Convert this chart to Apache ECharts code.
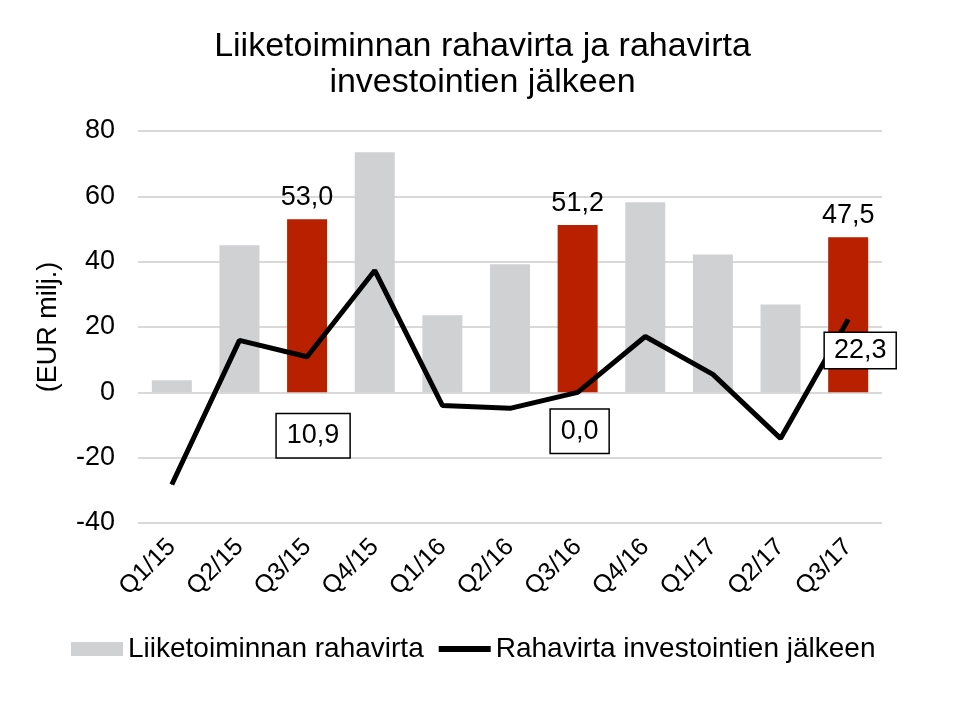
<!DOCTYPE html>
<html><head><meta charset="utf-8">
<script src="https://cdn.jsdelivr.net/npm/echarts@6/dist/echarts.min.js"></script>
<style>html,body{margin:0;padding:0;background:#fff}#c{width:965px;height:704px}</style>
</head><body><div id="c"></div>
<script>
const categories = ['Q1/15','Q2/15','Q3/15','Q4/15','Q1/16','Q2/16','Q3/16','Q4/16','Q1/17','Q2/17','Q3/17'];
const operatingCashFlow = [3.7, 45.0, 53.0, 73.5, 23.6, 39.2, 51.2, 58.2, 42.2, 26.9, 47.5];
const cashFlowAfterInvestments = [-28.2, 15.9, 10.9, 37.3, -4.0, -4.9, 0.0, 17.1, 5.5, -14.1, 22.3];
const highlighted = ['Q3/15','Q3/16','Q3/17'];
const yTicks = [-40, -20, 0, 20, 40, 60, 80];

const FONT = '"Liberation Sans", Arial, sans-serif';
const fmt = v => v.toFixed(1).replace('.', ',');

const barData = operatingCashFlow.map((v, i) => {
  const hi = highlighted.includes(categories[i]);
  return {
    value: v,
    itemStyle: { color: hi ? '#b82000' : '#d0d1d3' },
    label: { show: hi, position: 'top', distance: 8, formatter: fmt(v), fontSize: 27, color: '#000', fontFamily: FONT }
  };
});
const lineLabelStyle = {
  'Q3/15': { offset: [6, 52], padding: [6, 10, 6, 10] },
  'Q3/16': { offset: [2, 12], padding: [6, 10, 6, 10] },
  'Q3/17': { offset: [12, 8], padding: [2, 9, 2, 9] }
};
const lineData = cashFlowAfterInvestments.map((v, i) => {
  const st = lineLabelStyle[categories[i]];
  return {
    value: v,
    label: st ? {
      show: true, position: 'bottom', distance: 5, offset: st.offset, formatter: fmt(v),
      fontSize: 27, lineHeight: 31, color: '#000', fontFamily: FONT,
      backgroundColor: '#fff', borderColor: '#000', borderWidth: 1.5,
      padding: st.padding
    } : { show: false }
  };
});

const chart = echarts.init(document.getElementById('c'));
chart.setOption({
  animation: false,
  title: {
    text: 'Liiketoiminnan rahavirta ja rahavirta\ninvestointien jälkeen',
    left: 'center', top: 24,
    textStyle: { fontFamily: FONT, fontSize: 34, fontWeight: 'normal', color: '#000', lineHeight: 36 }
  },
  legend: {
    bottom: 36, left: 66, itemGap: 15,
    itemWidth: 52, itemHeight: 14,
    textStyle: { fontFamily: FONT, fontSize: 28, color: '#000' },
    data: [
      { name: 'Liiketoiminnan rahavirta', icon: 'rect', itemStyle: { color: '#d0d1d3' } },
      { name: 'Rahavirta investointien jälkeen', icon: 'path://M0,0H52V6H0Z', itemStyle: { color: '#000' }, lineStyle: { width: 0 } }
    ]
  },
  grid: { left: 138, right: 83, top: 131, bottom: 181, containLabel: false },
  xAxis: {
    type: 'category', data: categories,
    axisLine: { show: false }, axisTick: { show: false },
    axisLabel: { rotate: 45, fontSize: 25, color: '#000', fontFamily: FONT, margin: 20, interval: 0 }
  },
  yAxis: {
    type: 'value', min: yTicks[0], max: yTicks[yTicks.length - 1], interval: 20,
    name: '(EUR milj.)', nameLocation: 'middle', nameGap: 76, nameRotate: 90,
    nameTextStyle: { fontSize: 27, color: '#000', fontFamily: FONT },
    axisLine: { show: false }, axisTick: { show: false },
    axisLabel: { fontSize: 27, color: '#000', fontFamily: FONT, margin: 23 },
    splitLine: { lineStyle: { color: '#d9d9d9', width: 2 } }
  },
  series: [
    { name: 'Liiketoiminnan rahavirta', type: 'bar', data: barData, barWidth: 40, itemStyle: { color: '#d0d1d3' } },
    { name: 'Rahavirta investointien jälkeen', type: 'line', data: lineData,
      symbol: 'circle', symbolSize: 1, showSymbol: true,
      lineStyle: { color: '#000', width: 5 }, itemStyle: { color: '#000' }, z: 5 }
  ]
});
</script></body></html>
